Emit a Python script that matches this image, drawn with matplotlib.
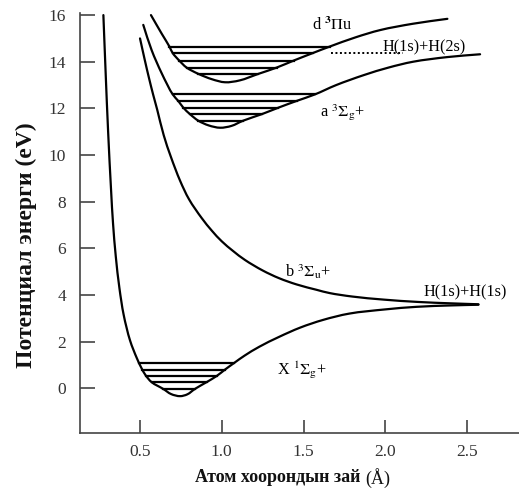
import numpy as np
import matplotlib
matplotlib.use("Agg")
import matplotlib.pyplot as plt
from matplotlib.path import Path
from matplotlib.patches import PathPatch

plt.rcParams['font.family'] = ['Liberation Serif', 'DejaVu Serif']
plt.rcParams['mathtext.fontset'] = 'stix'

# ---- data ----
X_r = [0.276, 0.29, 0.305, 0.323, 0.335, 0.352, 0.374, 0.40, 0.439, 0.48, 0.51, 0.535,
       0.571, 0.642, 0.69, 0.745, 0.79, 0.836, 0.907, 0.97, 1.02, 1.077, 1.14, 1.23,
       1.35, 1.48, 1.62, 1.78, 2.0, 2.19, 2.4, 2.57]
X_E = [16.0, 13.5, 11.0, 8.5, 7.07, 5.64, 4.3, 3.15, 2.05, 1.3, 0.85, 0.55,
       0.26, -0.03, -0.25, -0.34, -0.26, -0.03, 0.26, 0.53, 0.8, 1.09, 1.4, 1.78,
       2.2, 2.6, 2.93, 3.2, 3.38, 3.49, 3.55, 3.58]
X_levels = [1.09, 0.80, 0.53, 0.26, -0.03]

b_r = [0.50, 0.53, 0.555, 0.58, 0.605, 0.645, 0.69, 0.745, 0.80, 0.877, 0.94, 1.0,
       1.07, 1.142, 1.25, 1.35, 1.458, 1.58, 1.66, 1.8, 1.99, 2.2, 2.4, 2.57]
b_E = [15.0, 14.05, 13.3, 12.6, 11.95, 10.85, 9.9, 8.9, 8.1, 7.3, 6.75, 6.3,
       5.88, 5.5, 5.05, 4.72, 4.45, 4.22, 4.08, 3.93, 3.8, 3.7, 3.64, 3.6]

a_r = [0.52, 0.571, 0.633, 0.70, 0.734, 0.765, 0.806, 0.857, 0.92, 0.99, 1.06, 1.13,
       1.244, 1.346, 1.458, 1.57, 1.7, 1.87, 2.02, 2.17, 2.38, 2.58]
a_E = [15.58, 14.5, 13.5, 12.6, 12.32, 12.03, 11.75, 11.47, 11.27, 11.17, 11.25, 11.47,
       11.75, 12.03, 12.32, 12.6, 13.0, 13.43, 13.75, 14.0, 14.2, 14.32]
a_levels = [12.6, 12.32, 12.03, 11.75, 11.47]

d_r = [0.567, 0.633, 0.68, 0.70, 0.74, 0.785, 0.857, 0.94, 1.02, 1.11, 1.224, 1.336,
       1.44, 1.556, 1.66, 1.82, 1.97, 2.17, 2.38]
d_E = [16.0, 15.2, 14.65, 14.37, 14.05, 13.75, 13.48, 13.25, 13.12, 13.2, 13.48, 13.75,
       14.05, 14.37, 14.65, 15.05, 15.36, 15.63, 15.84]
d_levels = [14.65, 14.37, 14.05, 13.75, 13.48]

h2s_r = [1.67, 2.11]
h2s_E = [14.36, 14.36]

xticks = [0.5, 1.0, 1.5, 2.0, 2.5]
yticks = [0, 2, 4, 6, 8, 10, 12, 14, 16]

# ---- figure ----
W, H = 519, 491
fig = plt.figure(figsize=(W / 100, H / 100), dpi=100)
ax = fig.add_axes([80 / W, 1 - 433 / H, (519 - 80) / W, (433 - 13) / H])
ax.set_xlim(0.133, 2.818)
ax.set_ylim(-1.92, 16.09)

lw = 1.6
SX, SY = 163.5, 23.33  # approx pixels per data unit (for smooth rendering)


def smooth_path(r, E, alpha=0.5):
    P = np.column_stack([np.asarray(r, float) * SX, np.asarray(E, float) * SY])
    n = len(P)
    verts = [P[0]]
    codes = [Path.MOVETO]
    for i in range(n - 1):
        p1, p2 = P[i], P[i + 1]
        d2 = np.linalg.norm(p2 - p1) ** alpha
        if i > 0:
            p0 = P[i - 1]
            d1 = np.linalg.norm(p1 - p0) ** alpha
            c1 = (d1 ** 2 * p2 - d2 ** 2 * p0 + (2 * d1 ** 2 + 3 * d1 * d2 + d2 ** 2) * p1) / (3 * d1 * (d1 + d2))
        else:
            c1 = p1 + (p2 - p1) / 3
        if i + 2 < n:
            p3 = P[i + 2]
            d3 = np.linalg.norm(p3 - p2) ** alpha
            c2 = (d3 ** 2 * p1 - d2 ** 2 * p3 + (2 * d3 ** 2 + 3 * d3 * d2 + d2 ** 2) * p2) / (3 * d3 * (d3 + d2))
        else:
            c2 = p2 - (p2 - p1) / 3
        verts += [c1, c2, p2]
        codes += [Path.CURVE4] * 3
    verts = np.array(verts) / [SX, SY]
    return Path(verts, codes)


for r, E in [(X_r, X_E), (b_r, b_E), (a_r, a_E), (d_r, d_E)]:
    ax.add_patch(PathPatch(smooth_path(r, E), fill=False, edgecolor='black', lw=lw,
                           capstyle='round', joinstyle='round', transform=ax.transData))


def draw_levels(r, E, levels):
    r = np.asarray(r)
    E = np.asarray(E)
    i = int(np.argmin(E))
    lr, lE = r[:i + 1][::-1], E[:i + 1][::-1]
    rr, rE = r[i:], E[i:]
    for lv in levels:
        x0 = np.interp(lv, lE, lr)
        x1 = np.interp(lv, rE, rr)
        ax.plot([x0, x1], [lv, lv], color='black', lw=lw)


draw_levels(X_r, X_E, X_levels)
draw_levels(a_r, a_E, a_levels)
draw_levels(d_r, d_E, d_levels)

ax.plot(h2s_r, h2s_E, color='black', lw=1.4, ls=(0, (1, 1.3)))

fs = 11.7
ax.text(1.552, 15.36, r"d $^{\mathbf{3}}\Pi$u", fontsize=fs, ha='left', va='baseline')
ax.text(1.98, 14.45, "H(1s)+H(2s)", fontsize=fs, ha='left', va='baseline')
ax.text(1.601, 11.63, r"a $^{3}\Sigma_{\mathrm{g}}$+", fontsize=fs, ha='left', va='baseline')
ax.text(1.387, 4.77, r"b $^{3}\Sigma_{\mathrm{u}}$+", fontsize=fs, ha='left', va='baseline')
ax.text(2.231, 3.92, "H(1s)+H(1s)", fontsize=fs, ha='left', va='baseline')
ax.text(1.338, 0.57, r"X $^{1}\Sigma_{\mathrm{g}}$+", fontsize=fs, ha='left', va='baseline')

ax.set_xticks(xticks)
ax.set_xticklabels([f"{v:.1f}" for v in xticks])
ax.set_yticks(yticks)
ax.set_yticklabels([str(v) for v in yticks])

spine_c = '#444444'
for s in ['top', 'right']:
    ax.spines[s].set_visible(False)
for s in ['left', 'bottom']:
    ax.spines[s].set_color(spine_c)
    ax.spines[s].set_linewidth(1.2)
ax.tick_params(axis='y', direction='in', length=11, width=1.2, color=spine_c,
               labelsize=12.5, labelcolor='#333333', pad=10)
ax.tick_params(axis='x', direction='in', length=9.5, width=1.2, color=spine_c,
               labelsize=12.5, labelcolor='#333333', pad=8)

fig.text(26 / W, 1 - 245 / H, "Потенциал энерги (eV)", rotation=90, fontsize=17,
         fontweight='bold', ha='center', va='center', color='#111111')
fig.text(360 / W, 1 - 478 / H, "Атом хоорондын зай", fontsize=13,
         fontweight='bold', ha='right', va='center', color='#111111')
fig.text(365 / W, 1 - 478 / H, "(Å)", fontsize=13,
         ha='left', va='center', color='#111111')

fig.savefig("out.png", dpi=100)
